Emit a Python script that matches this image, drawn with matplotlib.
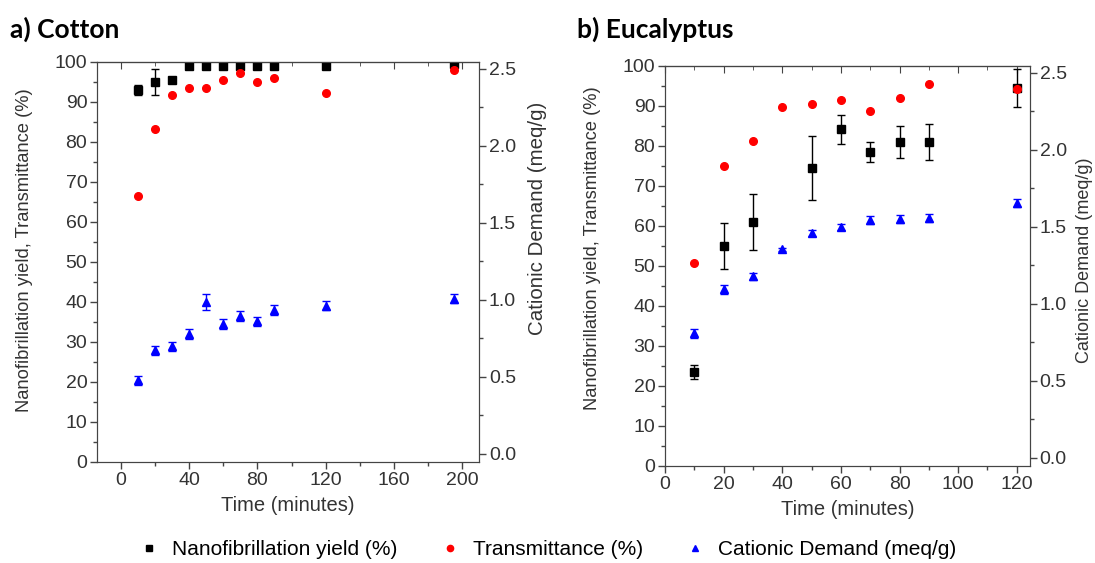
import numpy as np
import matplotlib.pyplot as plt
from matplotlib.ticker import MultipleLocator, FormatStrFormatter

plt.rcParams["font.family"] = ["Liberation Sans", "DejaVu Sans"]

# a) Cotton
cot_time = [10, 20, 30, 40, 50, 60, 70, 80, 90, 120, 195]
cot_yield = [93, 95, 95.5, 99, 99, 99, 99, 99, 99, 99, 99.5]
cot_yield_err = [1.2, 3.3, 0.5, 0.5, 0.5, 0.5, 0.5, 0.5, 0.5, 0.5, 0.5]
cot_trans = [66.5, 83.3, 91.8, 93.5, 93.6, 95.5, 97.3, 95.0, 96.0, 92.2, 98.0]
cot_cd = [0.476, 0.672, 0.698, 0.777, 0.986, 0.842, 0.894, 0.860, 0.933, 0.960, 1.006]
cot_cd_err = [0.03, 0.03, 0.03, 0.03, 0.05, 0.03, 0.03, 0.03, 0.03, 0.03, 0.03]

# b) Eucalyptus
euc_time_y = [10, 20, 30, 50, 60, 70, 80, 90, 120]
euc_yield = [23.5, 55, 61, 74.5, 84.2, 78.5, 81, 81, 94.5]
euc_yield_err = [1.7, 5.7, 7.0, 7.9, 3.6, 2.4, 4.0, 4.5, 4.8]
euc_time = [10, 20, 30, 40, 50, 60, 70, 80, 90, 120]
euc_trans = [50.8, 75.0, 81.2, 89.8, 90.6, 91.4, 88.8, 92.0, 95.5, 94.3]
euc_cd = [0.807, 1.094, 1.177, 1.354, 1.458, 1.497, 1.542, 1.549, 1.557, 1.654]
euc_cd_err = [0.03, 0.03, 0.02, 0.01, 0.02, 0.02, 0.025, 0.025, 0.025, 0.025]

tick_color = "#333333"
spine_color = "#444444"
tick_fs = 14

fig = plt.figure(figsize=(10.95, 5.63), dpi=100)


def make_panel(rect, xlim, xmajor, title, title_x,
               t_y, y, y_err, t_tr, tr, t_cd, cd, cd_err,
               left_lab, right_lab, right_fs):
    ax = fig.add_axes(rect)
    ax.errorbar(t_y, y, yerr=y_err, fmt="s", color="black", ms=6,
                elinewidth=1, capsize=3, capthick=1, zorder=3)
    ax.plot(t_tr, tr, "o", color="#ff0000", ms=5.5, zorder=4)
    ax.set_xlim(*xlim)
    ax.set_ylim(0, 100)
    ax.xaxis.set_major_locator(MultipleLocator(xmajor))
    ax.xaxis.set_minor_locator(MultipleLocator(xmajor / 2))
    ax.yaxis.set_major_locator(MultipleLocator(10))
    ax.yaxis.set_minor_locator(MultipleLocator(5))
    ax.tick_params(which="major", direction="out", length=5, width=1, pad=2,
                   labelsize=tick_fs, colors=spine_color, labelcolor=tick_color)
    ax.tick_params(which="minor", direction="out", length=3, width=1,
                   colors=spine_color)
    ax.set_xlabel("Time (minutes)", fontsize=14.5, color=tick_color, labelpad=5)
    ax.set_ylabel("Nanofibrillation yield, Transmittance (%)", fontsize=13.2,
                  color=tick_color)
    ax.yaxis.set_label_coords(*left_lab)
    for s in ax.spines.values():
        s.set_color(spine_color)

    top = ax.secondary_xaxis("top")
    top.xaxis.set_major_locator(MultipleLocator(xmajor))
    top.xaxis.set_minor_locator(MultipleLocator(xmajor / 2))
    top.tick_params(which="major", direction="in", length=5, labeltop=False,
                    colors=spine_color)
    top.tick_params(which="minor", direction="in", length=3, colors=spine_color)

    ax2 = ax.twinx()
    ax2.errorbar(t_cd, cd, yerr=cd_err, fmt="^", color="#0000ff", ms=6,
                 elinewidth=1, capsize=3, capthick=1, zorder=3)
    ax2.set_ylim(-0.055, 2.545)
    ax2.yaxis.set_major_locator(MultipleLocator(0.5))
    ax2.yaxis.set_minor_locator(MultipleLocator(0.25))
    ax2.yaxis.set_major_formatter(FormatStrFormatter("%.1f"))
    ax2.tick_params(which="major", direction="out", length=5, width=1, pad=2,
                    labelsize=tick_fs, colors=spine_color, labelcolor=tick_color)
    ax2.tick_params(which="minor", direction="out", length=3, width=1,
                    colors=spine_color)
    ax2.set_ylabel("Cationic Demand (meq/g)", fontsize=right_fs, color=tick_color)
    ax2.yaxis.set_label_coords(*right_lab)
    for s in ax2.spines.values():
        s.set_color(spine_color)

    fig.text(title_x, 0.948, title, fontsize=19, fontweight="bold",
             family=["Lato", "DejaVu Sans"], va="center", ha="left")
    return ax, ax2


make_panel([0.0886, 0.1794, 0.349, 0.7105], (-14, 210), 40, "a) Cotton", 0.009,
           cot_time, cot_yield, cot_yield_err, cot_time, cot_trans,
           cot_time, cot_cd, cot_cd_err,
           (-0.168, 0.53), (1.128, 0.61), 14.8)
make_panel([0.6073, 0.1723, 0.3333, 0.7105], (0, 124.5), 20, "b) Eucalyptus", 0.527,
           euc_time_y, euc_yield, euc_yield_err, euc_time, euc_trans,
           euc_time, euc_cd, euc_cd_err,
           (-0.175, 0.544), (1.126, 0.515), 13.0)

h1 = plt.Line2D([], [], ls="", marker="s", color="black", ms=5)
h2 = plt.Line2D([], [], ls="", marker="o", color="#ff0000", ms=4.5)
h3 = plt.Line2D([], [], ls="", marker="^", color="#0000ff", ms=5)
fig.legend([h1, h2, h3],
           ["Nanofibrillation yield (%)", "Transmittance (%)", "Cationic Demand (meq/g)"],
           loc="center", bbox_to_anchor=(0.5, 0.024), ncol=3, frameon=False,
           fontsize=15, handlelength=1.0, handletextpad=0.6, columnspacing=2.0)

fig.savefig("out.png", dpi=100)
